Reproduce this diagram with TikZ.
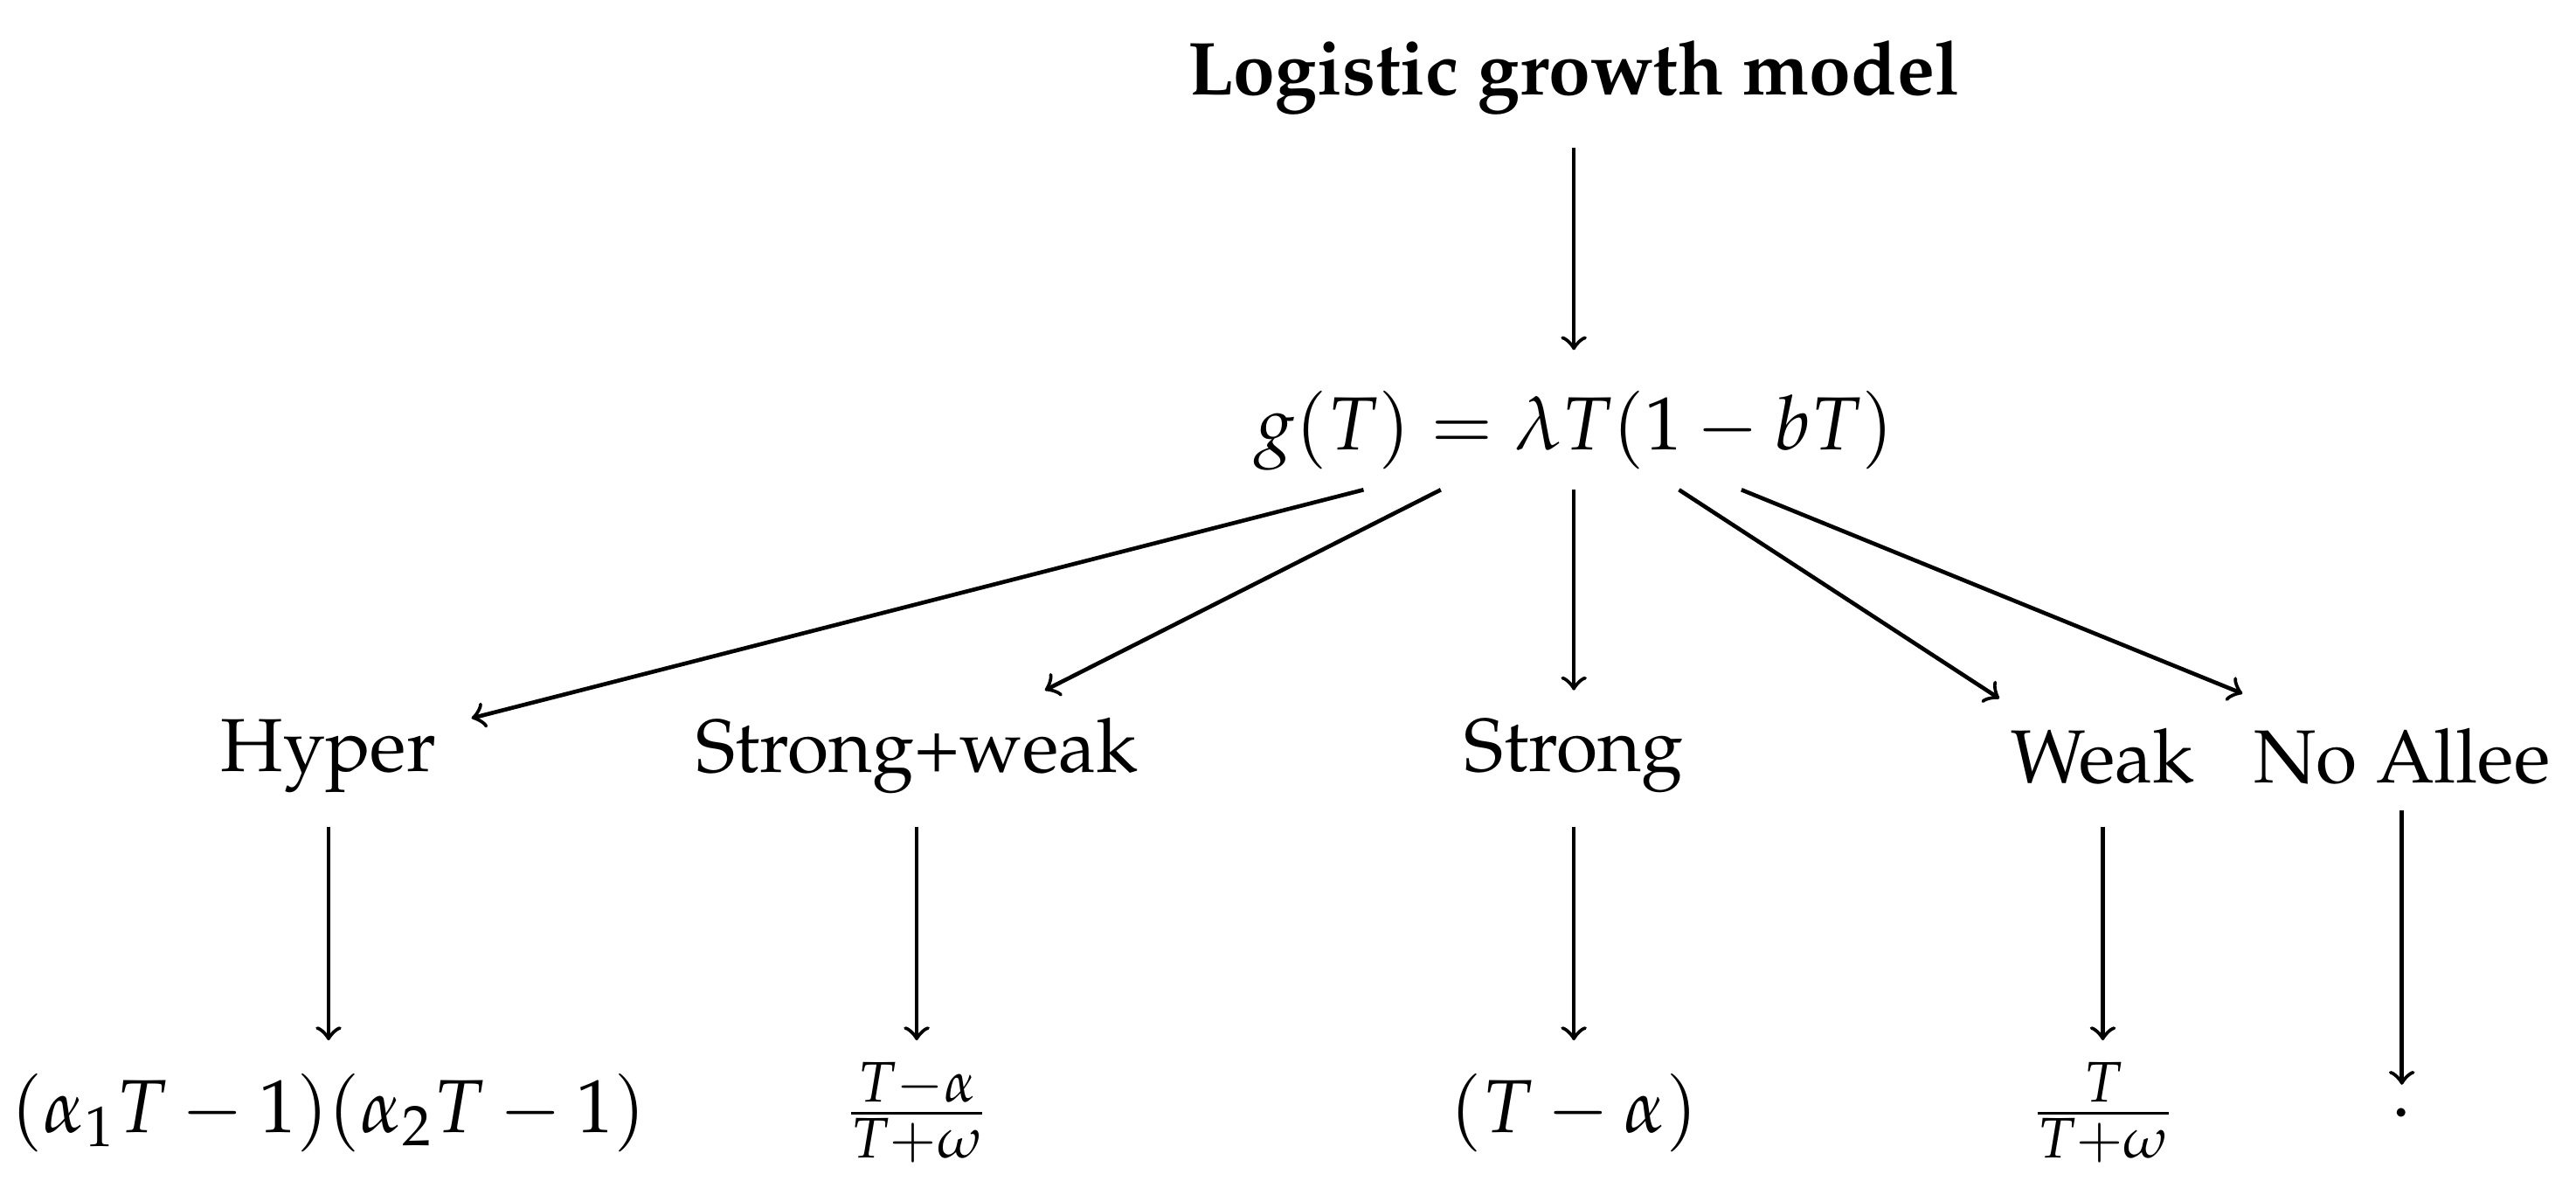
\documentclass[tikz,border=0pt]{standalone}
\usepackage[T1]{fontenc}
\usepackage{mathpazo}
\begin{document}
\begin{tikzpicture}[x=0.01cm,y=-0.01cm,
  lbl/.style={inner sep=0pt,font=\fontsize{13}{16}\selectfont},
  arr/.style={->,line width=0.7pt}]
\useasboundingbox (0,0) rectangle (1568,727);
\node[lbl,font=\fontsize{13}{16}\selectfont\bfseries] (title) at (958,47) {Logistic growth model};
\node[lbl] (g) at (958,262) {$g(T)=\lambda T(1-bT)$};
\node[lbl] (hyper) at (200,460) {Hyper};
\node[lbl] (sw) at (558,460) {Strong+weak};
\node[lbl] (strong) at (958,460) {Strong};
\node[lbl] (weak) at (1280,460) {Weak};
\node[lbl] (no) at (1462,460) {No Allee};
\node[lbl] (b1) at (200,677) {$(\alpha_1T-1)(\alpha_2T-1)$};
\node[lbl] (b2) at (558,677) {$\frac{T-\alpha}{T+\omega}$};
\node[lbl] (b3) at (958,677) {$(T-\alpha)$};
\node[lbl] (b4) at (1280,677) {$\frac{T}{T+\omega}$};
\node[lbl] (b5) at (1462,677) {$.$};
\coordinate (t0) at (958,90); \coordinate (t1) at (958,213);
\draw[arr] (t0) -- (t1);
\coordinate (g1) at (830,298); \coordinate (g2) at (877,298); \coordinate (g3) at (958,298);
\coordinate (g4) at (1022,298); \coordinate (g5) at (1060,298);
\coordinate (h1) at (287,437); \coordinate (h2) at (636,420); \coordinate (h3) at (958,420);
\coordinate (h4) at (1217,425); \coordinate (h5) at (1365,422);
\draw[arr] (g1) -- (h1); \draw[arr] (g2) -- (h2); \draw[arr] (g3) -- (h3);
\draw[arr] (g4) -- (h4); \draw[arr] (g5) -- (h5);
\foreach \x/\n in {200/1,558/2,958/3,1280/4}{
  \coordinate (u\n) at (\x,503); \coordinate (v\n) at (\x,633);
  \draw[arr] (u\n) -- (v\n);}
\coordinate (u5) at (1462,493); \coordinate (v5) at (1462,660);
\draw[arr] (u5) -- (v5);
\end{tikzpicture}
\end{document}
